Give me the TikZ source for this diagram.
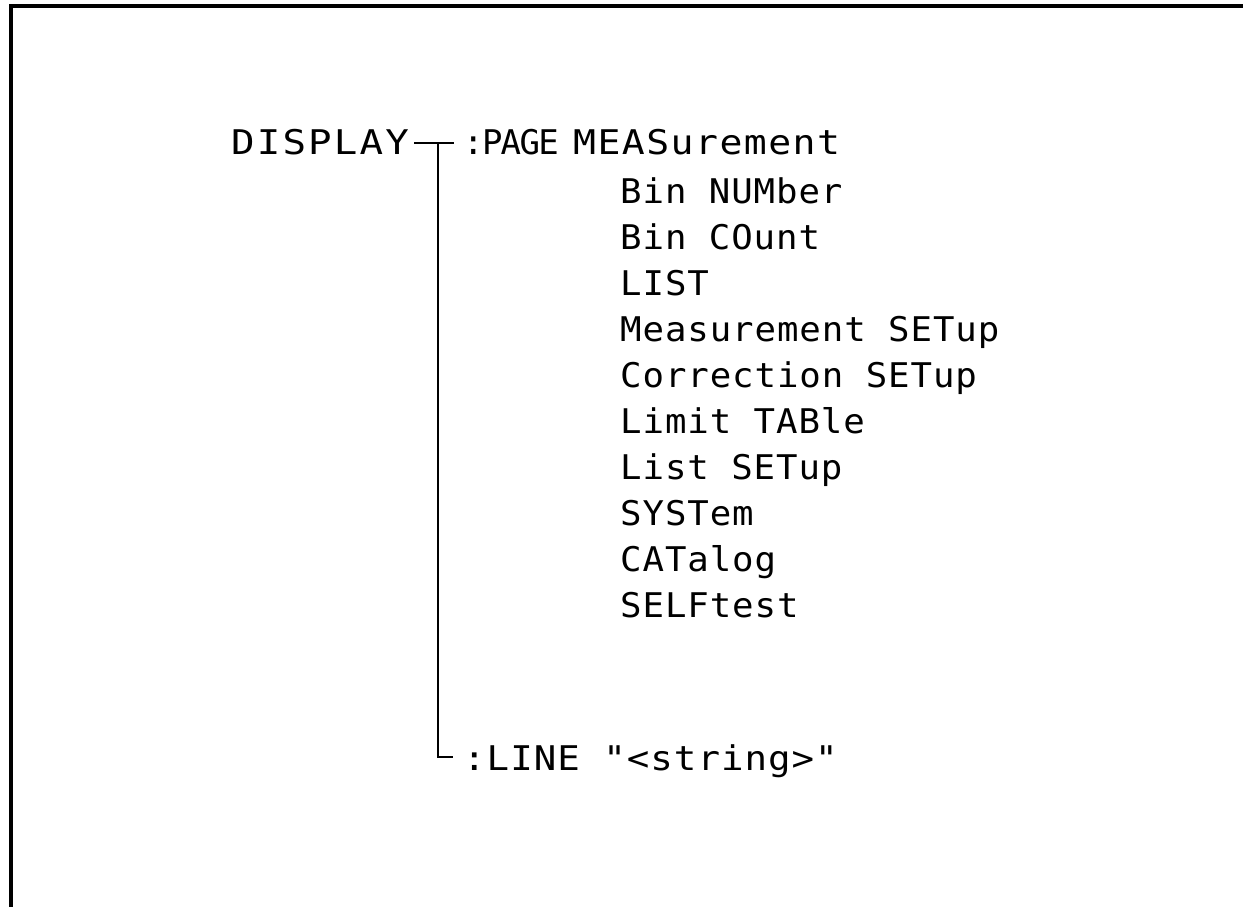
\documentclass[tikz,border=0pt]{standalone}
\usepackage{fontspec}
\newfontfamily\plotfont[FakeStretch=1.05,LetterSpace=2.7]{DejaVu Sans Mono}
\newfontfamily\plotwide[FakeStretch=1.15,LetterSpace=6.3]{DejaVu Sans Mono}
\newfontfamily\plotmeas[FakeStretch=1.12,LetterSpace=4.3]{DejaVu Sans Mono}
\newfontfamily\plotnarrow[FakeStretch=1.0,LetterSpace=-5]{DejaVu Sans Mono}
\newfontfamily\plotline[FakeStretch=1.1,LetterSpace=3]{DejaVu Sans Mono}
\begin{document}
\begin{tikzpicture}[x=1pt,y=-1pt,
  txt/.style={anchor=base west, inner sep=0pt, font=\plotfont\fontsize{34}{34}\selectfont},
  widetxt/.style={txt, font=\plotwide\fontsize{34}{34}\selectfont},
  meastxt/.style={txt, font=\plotmeas\fontsize{34}{34}\selectfont},
  narrowtxt/.style={txt, font=\plotnarrow\fontsize{34}{34}\selectfont},
  linetxt/.style={txt, font=\plotline\fontsize{34}{34}\selectfont},
  conn/.style={line width=1.6pt, line cap=butt},
  frame/.style={line width=3.5pt}]
\useasboundingbox (0,0) rectangle (1243,907);
\fill[white] (0,0) rectangle (1243,907);
\draw[frame] (11,907) -- (11,6) -- (1243,6);

\node[widetxt] (disp) at (231,154) {DISPLAY};
\node[narrowtxt] (page) at (463,154) {:PAGE};
\node[meastxt] (meas) at (573,154) {MEASurement};
\node[txt] (i1) at (620,203) {Bin NUMber};
\node[txt] (i2) at (620,249) {Bin COunt};
\node[txt] (i3) at (620,295) {LIST};
\node[txt] (i4) at (620,341) {Measurement SETup};
\node[txt] (i5) at (620,387) {Correction SETup};
\node[txt] (i6) at (620,433) {Limit TABle};
\node[txt] (i7) at (620,479) {List SETup};
\node[txt] (i8) at (620,525) {SYSTem};
\node[txt] (i9) at (620,571) {CATalog};
\node[txt] (i10) at (620,617) {SELFtest};
\node[linetxt] (line) at (463,770) {:LINE "<string>"};

\coordinate (j) at (438,143);
\coordinate (jb) at (438,757);
\draw[conn] ([xshift=5pt]disp.east |- j) -- ([xshift=-9pt]page.west |- j);
\draw[conn] (j) -- (jb) -- ([xshift=-10pt]line.west |- jb);
\end{tikzpicture}
\end{document}
